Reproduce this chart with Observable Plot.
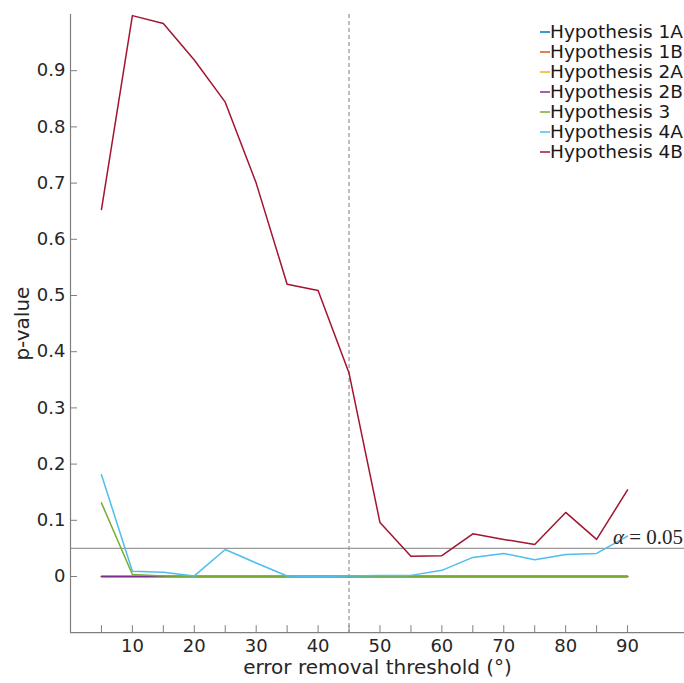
<!DOCTYPE html>
<html>
<head>
<meta charset="utf-8">
<script src="https://cdn.jsdelivr.net/npm/d3@7"></script>
<script src="https://cdn.jsdelivr.net/npm/@observablehq/plot@0.6"></script>
<style>
  html, body { margin: 0; padding: 0; background: #fff; }
  #chart { width: 684px; height: 683px; }
  svg { font-family: "DejaVu Sans", sans-serif; }
</style>
</head>
<body>
<div id="chart"></div>
<script>
const thresholds = [5, 10, 15, 20, 25, 30, 35, 40, 45, 50, 55, 60, 65, 70, 75, 80, 85, 90];
const seriesNames = ["Hypothesis 1A", "Hypothesis 1B", "Hypothesis 2A", "Hypothesis 2B", "Hypothesis 3", "Hypothesis 4A", "Hypothesis 4B"];
const seriesColors = ["#0072BD", "#D95319", "#EDB120", "#7E2F8E", "#77AC30", "#4DBEEE", "#A2142F"];
const h1A = [0, 0, 0, 0, 0, 0, 0, 0, 0, 0, 0, 0, 0, 0, 0, 0, 0, 0];
const h1B = [0, 0, 0, 0, 0, 0, 0, 0, 0, 0, 0, 0, 0, 0, 0, 0, 0, 0];
const h2A = [0, 0, 0, 0, 0, 0, 0, 0, 0, 0, 0, 0, 0, 0, 0, 0, 0, 0];
const h2B = [0, 0, 0, 0, 0, 0, 0, 0, 0, 0, 0, 0, 0, 0, 0, 0, 0, 0];
const h3  = [0.131, 0.0036, 0.001, 0, 0, 0, 0, 0, 0, 0, 0, 0, 0, 0, 0, 0, 0, 0];
const h4A = [0.181, 0.0095, 0.0077, 0.001, 0.048, 0.024, 0.001, 0, 0.001, 0.002, 0.002, 0.011, 0.034, 0.041, 0.030, 0.039, 0.041, 0.072];
const h4B = [0.653, 0.998, 0.984, 0.919, 0.844, 0.700, 0.520, 0.509, 0.362, 0.096, 0.036, 0.037, 0.076, 0.066, 0.057, 0.114, 0.066, 0.154];
const xDomain = [0, 99.2];
const yDomain = [-0.1, 1.0];
const xTicks = [5, 10, 15, 20, 25, 30, 35, 40, 45, 50, 55, 60, 65, 70, 75, 80, 85, 90];
const yTicks = [0, 0.1, 0.2, 0.3, 0.4, 0.5, 0.6, 0.7, 0.8, 0.9];
const alpha = 0.05;
const cutoff = 45;

const allSeries = [h1A, h1B, h2A, h2B, h3, h4A, h4B];
const rows = [];
allSeries.forEach((vals, i) => {
  vals.forEach((v, j) => rows.push({series: seriesNames[i], x: thresholds[j], y: v}));
});

const W = 684, H = 683;
const mTop = 14, mBottom = 50.8, mLeft = 70, mRight = 0;
const plotH = H - mTop - mBottom;

const chart = Plot.plot({
  width: W,
  height: H,
  marginTop: mTop,
  marginBottom: mBottom,
  marginLeft: mLeft,
  marginRight: mRight,
  style: {fontFamily: "DejaVu Sans, sans-serif", background: "#fff", overflow: "visible"},
  x: {domain: xDomain},
  y: {domain: yDomain},
  color: {domain: seriesNames, range: seriesColors},
  marks: [
    Plot.ruleY([alpha], {stroke: "#9a9a9a", strokeWidth: 1.3}),
    Plot.ruleX([cutoff], {stroke: "#9a9a9a", strokeWidth: 1.3, strokeDasharray: "4,3"}),
    Plot.line(rows, {x: "x", y: "y", z: "series", stroke: "series", strokeWidth: 1.5}),
    Plot.ruleX([xDomain[0]], {stroke: "#7f7f7f", strokeWidth: 1.2}),
    Plot.ruleY([yDomain[0]], {stroke: "#7f7f7f", strokeWidth: 1.2}),
    Plot.tickX(xTicks, {x: d => d, stroke: "#7f7f7f", insetTop: plotH - 7}),
    Plot.tickY(yTicks, {y: d => d, stroke: "#7f7f7f", insetRight: (W - mLeft - mRight) - 7}),
    Plot.axisX({
      ticks: xTicks.filter(d => d % 10 === 0),
      tickSize: 0, tickPadding: 7, fontSize: 18, color: "#262626",
      tickFormat: d => String(d),
      label: "error removal threshold (°)", labelAnchor: "center", labelOffset: 41, labelArrow: "none"
    }),
    Plot.axisY({
      ticks: yTicks,
      tickSize: 0, tickPadding: 5, fontSize: 18, color: "#262626",
      tickFormat: d => d === 0 ? "0" : d3.format(".1f")(d),
      label: "p-value", labelAnchor: "center", labelOffset: 56, labelArrow: "none"
    })
  ]
});

document.getElementById("chart").appendChild(chart);

const svg = d3.select(chart);
svg.selectAll("[aria-label='x-axis label'] text, [aria-label='y-axis label'] text")
  .style("font-size", "20px").attr("fill", "#262626");

// alpha annotation
const ya = chart.scale("y").apply(alpha);
const at = svg.append("text")
  .attr("x", W - 1)
  .attr("y", ya - 4)
  .attr("text-anchor", "end")
  .attr("font-family", "Liberation Serif, DejaVu Serif, serif")
  .attr("font-size", 21)
  .attr("fill", "#262626");
at.append("tspan").attr("font-style", "italic").text("α");
at.append("tspan").text(" = 0.05");

// legend
const lg = svg.append("g").attr("text-anchor", "start");
seriesNames.forEach((name, i) => {
  const cy = 32 + i * 20;
  lg.append("line")
    .attr("x1", 540).attr("x2", 550)
    .attr("y1", cy).attr("y2", cy)
    .attr("stroke", seriesColors[i]).attr("stroke-width", 1.5);
  lg.append("text")
    .attr("x", 550).attr("y", cy)
    .attr("dy", "0.35em")
    .attr("text-anchor", "start")
    .attr("font-size", 18.5)
    .attr("fill", "#1a1a1a")
    .text(name);
});
</script>
</body>
</html>
